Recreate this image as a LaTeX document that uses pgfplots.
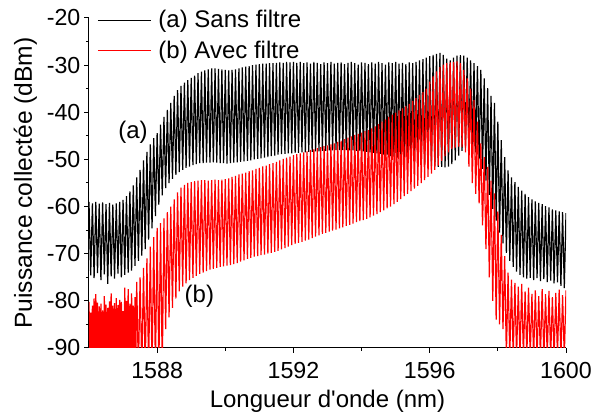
\documentclass[border=0pt]{standalone}
\usepackage{pgfplots}
\pgfplotsset{compat=1.18}
\usepackage{pgfplotstable}
\usepackage{fontspec}
\setmainfont{Liberation Sans}

% (a) sans filtre : pics et creux des franges
\pgfplotstableread{
x y
1586.00 -59.0
1586.05 -74.6
1586.10 -59.3
1586.15 -75.2
1586.20 -59.0
1586.25 -74.1
1586.30 -59.4
1586.35 -75.6
1586.40 -59.1
1586.45 -74.4
1586.50 -59.5
1586.55 -76.4
1586.60 -59.2
1586.65 -74.8
1586.70 -59.6
1586.75 -75.3
1586.80 -59.3
1586.85 -74.2
1586.90 -59.0
1586.95 -75.0
1587.00 -58.6
1587.05 -74.5
1587.10 -57.8
1587.15 -74.0
1587.20 -56.8
1587.25 -73.6
1587.30 -55.5
1587.35 -72.6
1587.40 -53.8
1587.45 -71.5
1587.50 -52.2
1587.55 -70.4
1587.60 -50.2
1587.65 -69.0
1587.70 -48.4
1587.75 -67.0
1587.80 -46.8
1587.85 -64.6
1587.90 -45.5
1587.95 -62.0
1588.00 -44.4
1588.05 -59.6
1588.10 -42.6
1588.15 -57.6
1588.20 -41.0
1588.25 -56.1
1588.30 -39.5
1588.35 -55.0
1588.40 -38.0
1588.45 -54.1
1588.50 -36.5
1588.55 -53.3
1588.60 -35.3
1588.65 -52.7
1588.70 -34.4
1588.75 -52.2
1588.80 -33.7
1588.85 -51.8
1588.90 -33.2
1588.95 -51.5
1589.00 -32.7
1589.05 -51.2
1589.10 -32.2
1589.15 -51.0
1589.20 -31.7
1589.25 -50.8
1589.30 -31.4
1589.35 -50.8
1589.40 -31.1
1589.45 -50.7
1589.50 -30.9
1589.55 -50.7
1589.60 -30.7
1589.65 -50.6
1589.70 -30.7
1589.75 -50.7
1589.80 -30.8
1589.85 -50.8
1589.90 -30.9
1589.95 -50.8
1590.00 -31.0
1590.05 -50.9
1590.10 -31.1
1590.15 -50.8
1590.20 -31.0
1590.25 -50.7
1590.30 -30.9
1590.35 -50.6
1590.40 -30.7
1590.45 -50.5
1590.50 -30.5
1590.55 -50.4
1590.60 -30.3
1590.65 -50.3
1590.70 -30.2
1590.75 -50.2
1590.80 -30.0
1590.85 -50.0
1590.90 -29.9
1590.95 -49.9
1591.00 -29.8
1591.05 -49.8
1591.10 -29.7
1591.15 -49.6
1591.20 -29.7
1591.25 -49.5
1591.30 -29.6
1591.35 -49.3
1591.40 -29.6
1591.45 -49.2
1591.50 -29.5
1591.55 -49.0
1591.60 -29.4
1591.65 -48.9
1591.70 -29.5
1591.75 -48.8
1591.80 -29.3
1591.85 -48.7
1591.90 -29.4
1591.95 -48.7
1592.00 -29.3
1592.05 -48.6
1592.10 -29.5
1592.15 -48.6
1592.20 -29.3
1592.25 -48.5
1592.30 -29.6
1592.35 -48.5
1592.40 -29.4
1592.45 -48.4
1592.50 -29.7
1592.55 -48.4
1592.60 -29.3
1592.65 -48.3
1592.70 -29.5
1592.75 -48.3
1592.80 -29.8
1592.85 -48.2
1592.90 -29.4
1592.95 -48.2
1593.00 -29.6
1593.05 -48.1
1593.10 -29.3
1593.15 -48.1
1593.20 -29.7
1593.25 -48.0
1593.30 -29.5
1593.35 -48.0
1593.40 -29.4
1593.45 -48.0
1593.50 -29.8
1593.55 -48.0
1593.60 -29.5
1593.65 -48.1
1593.70 -29.3
1593.75 -48.1
1593.80 -29.6
1593.85 -48.2
1593.90 -29.9
1593.95 -48.2
1594.00 -29.4
1594.05 -48.3
1594.10 -29.5
1594.15 -48.4
1594.20 -29.8
1594.25 -48.5
1594.30 -29.4
1594.35 -48.6
1594.40 -29.7
1594.45 -48.7
1594.50 -29.3
1594.55 -48.8
1594.60 -29.6
1594.65 -49.0
1594.70 -29.9
1594.75 -49.1
1594.80 -29.4
1594.85 -49.3
1594.90 -29.6
1594.95 -49.4
1595.00 -29.3
1595.05 -49.6
1595.10 -29.7
1595.15 -49.8
1595.20 -29.5
1595.25 -50.0
1595.30 -29.8
1595.35 -50.2
1595.40 -29.4
1595.45 -50.4
1595.50 -29.6
1595.55 -50.6
1595.60 -29.3
1595.65 -50.8
1595.70 -29.0
1595.75 -51.0
1595.80 -28.7
1595.85 -51.2
1595.90 -28.4
1595.95 -51.3
1596.00 -28.1
1596.05 -51.4
1596.10 -27.8
1596.15 -51.5
1596.20 -27.6
1596.25 -51.6
1596.30 -27.4
1596.35 -51.6
1596.40 -27.8
1596.45 -51.7
1596.50 -28.6
1596.55 -51.5
1596.60 -29.0
1596.65 -51.0
1596.70 -28.4
1596.75 -50.2
1596.80 -28.0
1596.85 -49.2
1596.90 -27.9
1596.95 -48.2
1597.00 -28.0
1597.05 -47.5
1597.10 -28.4
1597.15 -47.3
1597.20 -29.0
1597.25 -47.6
1597.30 -29.6
1597.35 -48.5
1597.40 -30.2
1597.45 -50.0
1597.50 -31.0
1597.55 -52.0
1597.60 -32.8
1597.65 -54.5
1597.70 -34.9
1597.75 -57.5
1597.80 -36.5
1597.85 -60.5
1597.90 -38.0
1597.95 -63.0
1598.00 -42.0
1598.05 -65.5
1598.10 -45.9
1598.15 -67.8
1598.20 -49.5
1598.25 -69.8
1598.30 -52.3
1598.35 -71.5
1598.40 -53.8
1598.45 -72.8
1598.50 -54.8
1598.55 -73.8
1598.60 -55.8
1598.65 -74.5
1598.70 -56.6
1598.75 -75.0
1598.80 -57.3
1598.85 -75.3
1598.90 -58.0
1598.95 -75.1
1599.00 -58.5
1599.05 -75.6
1599.10 -58.9
1599.15 -75.2
1599.20 -59.2
1599.25 -75.8
1599.30 -59.5
1599.35 -75.4
1599.40 -59.9
1599.45 -76.0
1599.50 -60.2
1599.55 -75.7
1599.60 -60.6
1599.65 -76.3
1599.70 -60.8
1599.75 -76.1
1599.80 -61.0
1599.85 -76.8
1599.90 -61.2
1599.95 -77.3
1600.00 -61.4
}\sansfiltre

% (b) avec filtre
\pgfplotstableread{
x y
1586.000 -80.2
1586.025 -92
1586.050 -82.5
1586.075 -92
1586.100 -81.0
1586.125 -92
1586.150 -79.5
1586.175 -92
1586.200 -78.6
1586.225 -92
1586.250 -80.4
1586.275 -92
1586.300 -81.2
1586.325 -92
1586.350 -80.6
1586.375 -92
1586.400 -82.0
1586.425 -92
1586.450 -79.0
1586.475 -92
1586.500 -80.8
1586.525 -92
1586.550 -81.5
1586.575 -92
1586.600 -80.1
1586.625 -92
1586.650 -78.4
1586.675 -92
1586.700 -81.0
1586.725 -92
1586.750 -80.5
1586.775 -92
1586.800 -79.4
1586.825 -92
1586.850 -80.9
1586.875 -92
1586.900 -79.8
1586.925 -92
1586.950 -80.2
1586.975 -92
1587.000 -82.2
1587.025 -92
1587.050 -77.2
1587.075 -92
1587.100 -80.0
1587.125 -92
1587.150 -77.5
1587.175 -92
1587.200 -80.6
1587.225 -92
1587.250 -78.4
1587.275 -92
1587.300 -81.0
1587.325 -92
1587.350 -79.2
1587.375 -92
1587.400 -76.0
1587.450 -95
1587.500 -75.0
1587.550 -95
1587.600 -73.0
1587.650 -95
1587.700 -71.0
1587.750 -95
1587.800 -68.5
1587.850 -95
1587.900 -66.5
1587.950 -95
1588.000 -64.5
1588.050 -95
1588.100 -63.5
1588.150 -95
1588.200 -62.5
1588.250 -86.0
1588.300 -61.2
1588.350 -83.5
1588.400 -60.0
1588.450 -81.5
1588.500 -58.5
1588.550 -79.5
1588.600 -57.0
1588.650 -78.0
1588.700 -56.0
1588.750 -77.0
1588.800 -55.4
1588.850 -76.3
1588.900 -55.0
1588.950 -75.6
1589.000 -54.8
1589.050 -75.1
1589.100 -54.6
1589.150 -74.7
1589.200 -54.5
1589.250 -74.3
1589.300 -54.4
1589.350 -74.0
1589.400 -54.4
1589.450 -73.7
1589.500 -54.5
1589.550 -73.4
1589.600 -54.4
1589.650 -73.2
1589.700 -54.3
1589.750 -73.0
1589.800 -54.4
1589.850 -72.8
1589.900 -54.3
1589.950 -72.7
1590.000 -54.2
1590.050 -72.5
1590.100 -54.0
1590.150 -72.4
1590.200 -53.7
1590.250 -72.2
1590.300 -53.5
1590.350 -72.0
1590.400 -53.2
1590.450 -71.7
1590.500 -53.0
1590.550 -71.4
1590.600 -52.8
1590.650 -71.1
1590.700 -52.5
1590.750 -70.9
1590.800 -52.3
1590.850 -70.6
1590.900 -52.0
1590.950 -70.5
1591.000 -51.8
1591.050 -70.3
1591.100 -51.5
1591.150 -70.2
1591.200 -51.3
1591.250 -70.0
1591.300 -51.0
1591.350 -69.8
1591.400 -50.8
1591.450 -69.6
1591.500 -50.5
1591.550 -69.4
1591.600 -50.2
1591.650 -69.1
1591.700 -49.9
1591.750 -68.8
1591.800 -49.6
1591.850 -68.5
1591.900 -49.4
1591.950 -68.2
1592.000 -49.1
1592.050 -67.9
1592.100 -48.9
1592.150 -67.7
1592.200 -48.7
1592.250 -67.5
1592.300 -48.5
1592.350 -67.2
1592.400 -48.3
1592.450 -67.0
1592.500 -48.0
1592.550 -66.7
1592.600 -47.8
1592.650 -66.4
1592.700 -47.6
1592.750 -66.1
1592.800 -47.4
1592.850 -65.8
1592.900 -47.2
1592.950 -65.6
1593.000 -47.0
1593.050 -65.3
1593.100 -46.8
1593.150 -65.1
1593.200 -46.6
1593.250 -64.9
1593.300 -46.3
1593.350 -64.6
1593.400 -46.0
1593.450 -64.4
1593.500 -45.7
1593.550 -64.1
1593.600 -45.4
1593.650 -63.9
1593.700 -45.1
1593.750 -63.6
1593.800 -44.8
1593.850 -63.3
1593.900 -44.6
1593.950 -63.1
1594.000 -44.3
1594.050 -62.9
1594.100 -44.0
1594.150 -62.6
1594.200 -43.8
1594.250 -62.3
1594.300 -43.4
1594.350 -61.9
1594.400 -43.0
1594.450 -61.6
1594.500 -42.5
1594.550 -61.2
1594.600 -42.0
1594.650 -60.8
1594.700 -41.5
1594.750 -60.4
1594.800 -41.0
1594.850 -60.0
1594.900 -40.5
1594.950 -59.5
1595.000 -40.1
1595.050 -59.0
1595.100 -39.6
1595.150 -58.4
1595.200 -39.2
1595.250 -57.8
1595.300 -38.7
1595.350 -57.3
1595.400 -38.2
1595.450 -56.7
1595.500 -37.6
1595.550 -56.2
1595.600 -37.0
1595.650 -55.6
1595.700 -36.3
1595.750 -55.0
1595.800 -35.7
1595.850 -54.4
1595.900 -35.0
1595.950 -53.7
1596.000 -33.5
1596.050 -53.0
1596.100 -32.3
1596.150 -52.2
1596.200 -31.3
1596.250 -51.3
1596.300 -30.4
1596.350 -50.3
1596.400 -29.9
1596.450 -49.3
1596.500 -29.6
1596.550 -48.5
1596.600 -29.4
1596.650 -47.8
1596.700 -29.3
1596.750 -47.5
1596.800 -29.2
1596.850 -47.3
1596.900 -29.6
1596.950 -47.4
1597.000 -31.0
1597.050 -48.5
1597.100 -32.8
1597.150 -51.5
1597.200 -35.0
1597.250 -55.0
1597.300 -37.4
1597.350 -57.3
1597.400 -42.0
1597.450 -59.3
1597.500 -46.6
1597.550 -64.0
1597.600 -49.5
1597.650 -69.0
1597.700 -51.6
1597.750 -75.0
1597.800 -54.5
1597.850 -80.0
1597.900 -57.2
1597.950 -84.0
1598.000 -61.0
1598.050 -85.0
1598.100 -66.0
1598.150 -86.0
1598.200 -70.5
1598.250 -92
1598.300 -74.0
1598.350 -92
1598.400 -75.5
1598.450 -92
1598.500 -76.2
1598.550 -92
1598.600 -77.0
1598.650 -92
1598.700 -76.4
1598.750 -92
1598.800 -78.0
1598.850 -92
1598.900 -77.2
1598.950 -92
1599.000 -78.5
1599.050 -92
1599.100 -77.8
1599.150 -92
1599.200 -79.0
1599.250 -92
1599.300 -77.5
1599.350 -92
1599.400 -78.6
1599.450 -92
1599.500 -77.9
1599.550 -92
1599.600 -79.2
1599.650 -92
1599.700 -78.3
1599.750 -92
1599.800 -77.6
1599.850 -92
1599.900 -78.8
1599.950 -92
1600.000 -77.8
}\avecfiltre

\begin{document}
\begin{tikzpicture}
\begin{axis}[
    width=238.5pt, height=165pt, scale only axis,
    xmin=1586, xmax=1600, ymin=-90, ymax=-20,
    xtick={1588,1592,1596,1600}, minor xtick={1590,1594,1598},
    ytick={-90,-80,...,-20}, minor ytick={-85,-75,...,-25},
    axis x line*=bottom, axis y line*=left,
    axis line style={line width=0.5pt},
    tick align=outside,
    major tick length=2.3pt, minor tick length=1.5pt,
    tick style={black, line width=0.5pt},
    /pgf/number format/assume math mode=true,
    /pgf/number format/set thousands separator={},
    ticklabel style={font=\fontsize{11.6}{13}\selectfont},
    yticklabel style={xshift=1.5pt},
    xticklabel style={yshift=-1.5pt},
    xlabel style={font=\fontsize{12}{14}\selectfont},
    ylabel style={font=\fontsize{12.3}{14}\selectfont},
    xlabel shift=-1.5pt,
    ylabel shift=-2pt,
    xlabel={Longueur d\textquotesingle onde (nm)},
    ylabel={Puissance collectée (dBm)},
    legend cell align=left,
    legend image code/.code={\draw[#1, line width=0.5pt] (0pt,0pt) -- (26.5pt,0pt); \path (30pt,0pt);},
    legend style={draw=none, fill=none, at={(rel axis cs:0,1)}, anchor=north west,
        xshift=4pt, yshift=4pt, inner sep=0pt, nodes={inner sep=0pt},
        row sep=5pt, font=\fontsize{12}{14}\selectfont},
]
\addplot[black, line width=0.6pt] table {\sansfiltre};
\addlegendentry{(a) Sans filtre}
\addplot[red, line width=0.6pt] table {\avecfiltre};
\addlegendentry{(b) Avec filtre}
\node[font=\fontsize{12}{14}\selectfont] at (axis cs:1587.29,-44.2) {(a)};
\node[font=\fontsize{12}{14}\selectfont] at (axis cs:1589.24,-79.0) {(b)};
\coordinate (sw) at (rel axis cs:0,0);
\coordinate (ne) at (rel axis cs:1,1);
\end{axis}
\pgfresetboundingbox
\path ([shift={(-44.5pt,-33pt)}]sw) rectangle ([shift={(22pt,9pt)}]ne);
\end{tikzpicture}
\end{document}
